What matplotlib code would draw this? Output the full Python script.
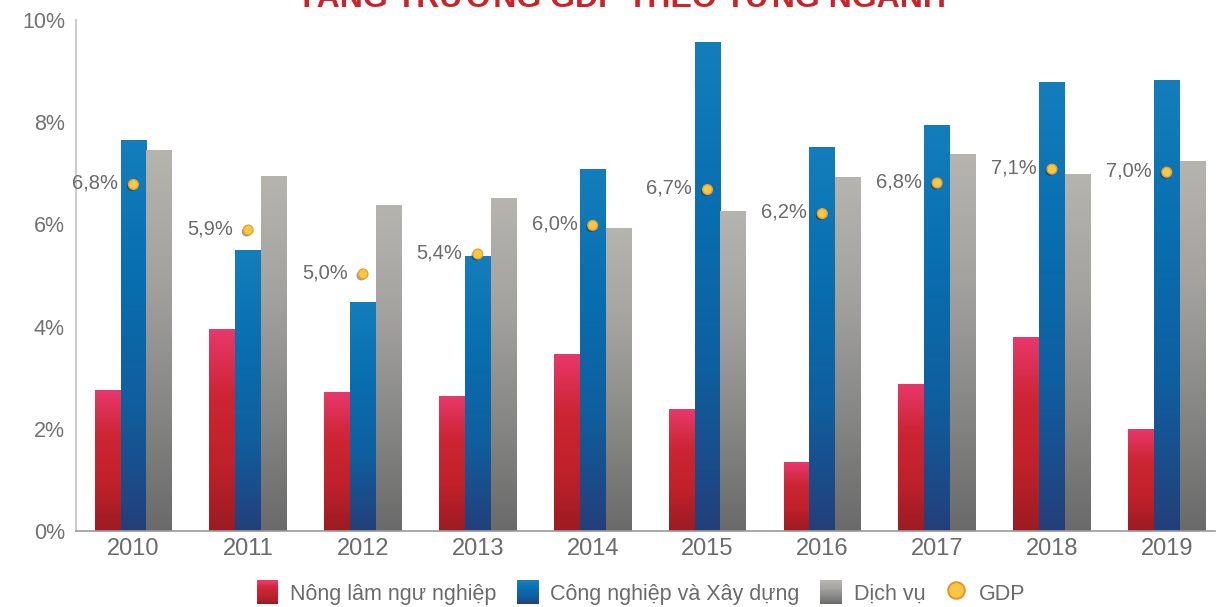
import numpy as np
import matplotlib
matplotlib.use("Agg")
import matplotlib.pyplot as plt
import matplotlib.patheffects as pe
from matplotlib.colors import LinearSegmentedColormap
from matplotlib.legend_handler import HandlerBase
from matplotlib.patches import Rectangle
from matplotlib.lines import Line2D

years = ["2010", "2011", "2012", "2013", "2014", "2015", "2016", "2017", "2018", "2019"]
nong_lam = [2.76, 3.96, 2.71, 2.65, 3.47, 2.39, 1.35, 2.88, 3.80, 2.00]
cong_nghiep = [7.65, 5.49, 4.49, 5.39, 7.08, 9.57, 7.51, 7.94, 8.78, 8.82]
dich_vu = [7.45, 6.94, 6.37, 6.51, 5.92, 6.27, 6.92, 7.37, 6.98, 7.24]
gdp = [6.78, 5.89, 5.03, 5.42, 5.98, 6.68, 6.21, 6.81, 7.08, 7.02]

series_names = ["Nông lâm ngư nghiệp", "Công nghiệp và Xây dựng", "Dịch vụ"]
# gradient stops, bottom -> top
grads = [
    ["#9c1b22", "#c0212b", "#cc2533", "#e9386c"],
    ["#233f7b", "#0f5f9f", "#086fb0", "#147ebc"],
    ["#6a6a6a", "#878786", "#a3a29f", "#b6b4af"],
]
TXT = "#6b6b6b"

plt.rcParams["font.family"] = ["Liberation Sans", "DejaVu Sans"]

fig = plt.figure(figsize=(12.26, 6.07), dpi=100)
ax = fig.add_axes([0.062, 0.1252, 0.929, 0.842])

x = np.arange(len(years))
w = 0.225
offsets = [-w, 0, w]
grad_img = np.linspace(0, 1, 256).reshape(-1, 1)

for vals, off, stops in zip([nong_lam, cong_nghiep, dich_vu], offsets, grads):
    cmap = LinearSegmentedColormap.from_list("g", stops)
    bars = ax.bar(x + off, vals, width=w, color="none", edgecolor="none")
    for b in bars:
        x0, y0 = b.get_x(), b.get_y()
        im = ax.imshow(grad_img, cmap=cmap, origin="lower", aspect="auto",
                       extent=[x0, x0 + b.get_width(), y0, y0 + b.get_height()],
                       zorder=2, interpolation="bicubic")
        im.set_clip_path(b)

shadow = [pe.SimplePatchShadow(offset=(-1.2, -1.2), shadow_rgbFace="#222222", alpha=0.45),
          pe.Normal()]
ax.plot(x, gdp, ls="none", marker="o", ms=7, mfc="#f7c943", mec="#f0a030", mew=1,
        zorder=5, path_effects=shadow)
for xi, g in zip(x, gdp):
    ax.annotate(f"{g:.1f}%".replace(".", ","), (xi, g), xytext=(-11, 1),
                textcoords="offset points", ha="right", va="center",
                fontsize=14.5, color=TXT, zorder=6)

ax.set_xlim(-0.5, 9.42)
ax.set_ylim(0, 10)
ax.set_yticks(range(0, 11, 2))
ax.set_yticklabels([f"{v}%" for v in range(0, 11, 2)])
ax.set_xticks(x)
ax.set_xticklabels(years)
ax.tick_params(axis="y", length=0, pad=8, labelsize=15.5, labelcolor="#727272")
ax.tick_params(axis="x", length=0, pad=5, labelsize=17, labelcolor=TXT)
for s in ["top", "right"]:
    ax.spines[s].set_visible(False)
ax.spines["left"].set_color("#cccccc")
ax.spines["left"].set_linewidth(1.5)
ax.spines["bottom"].set_color("#9a9a9a")
ax.spines["bottom"].set_linewidth(1.2)

# title is cut off by the top edge, as in the source image
fig.text(0.507, 0.989, "TĂNG TRƯỞNG GDP THEO TỪNG NGÀNH", ha="center", va="baseline",
         fontsize=23, fontweight="bold", color="#cc2229",
         family=["Liberation Sans Narrow", "Liberation Sans", "DejaVu Sans"])


class GradHandler(HandlerBase):
    def __init__(self, stops):
        super().__init__()
        self.stops = stops

    def create_artists(self, legend, orig_handle, xdescent, ydescent, width, height,
                       fontsize, trans):
        cmap = LinearSegmentedColormap.from_list("g", self.stops)
        n = 20
        arts = []
        for i in range(n):
            r = Rectangle((-xdescent, -ydescent + i * height / n), width, height / n + 0.3,
                          facecolor=cmap(i / (n - 1)), edgecolor="none", transform=trans)
            arts.append(r)
        return arts


handles = [Rectangle((0, 0), 1, 1) for _ in range(3)]
gdp_h = Line2D([], [], ls="none", marker="o", ms=12, mfc="#f7c943", mec="#f08a1c", mew=1.3)
hmap = {h: GradHandler(st) for h, st in zip(handles, grads)}
fig.legend(handles + [gdp_h], series_names + ["GDP"], handler_map=hmap,
           loc="center", bbox_to_anchor=(0.523, 0.024), ncol=4, frameon=False,
           fontsize=15.5, labelcolor=TXT, handlelength=1.0, handleheight=1.35,
           handletextpad=0.55, columnspacing=0.95)

fig.savefig("out.png", dpi=100)
